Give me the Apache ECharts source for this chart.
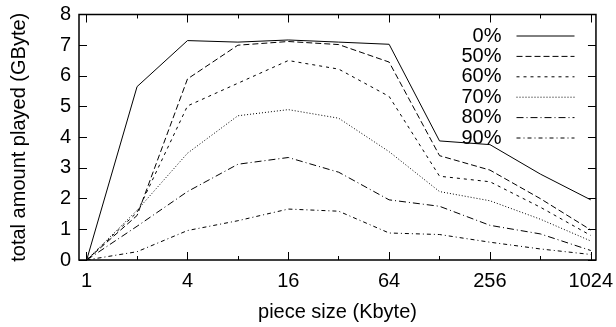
<!DOCTYPE html>
<html>
<head>
<meta charset="utf-8">
<script src="https://cdn.jsdelivr.net/npm/echarts@6/dist/echarts.min.js"></script>
<style>html,body{margin:0;padding:0;background:#fff}#c{width:616px;height:327px}</style>
</head>
<body>
<div id="c"></div>
<script>
const sizes = [1, 2, 4, 8, 16, 32, 64, 128, 256, 512, 1024];
const seriesNames = ['0%', '50%', '60%', '70%', '80%', '90%'];
const p0  = [0, 5.65, 7.15, 7.10, 7.17, 7.10, 7.03, 3.88, 3.76, 2.80, 1.96];
const p50 = [0, 1.45, 5.90, 7.00, 7.12, 7.02, 6.45, 3.40, 2.93, 2.00, 0.98];
const p60 = [0, 1.55, 5.02, 5.76, 6.50, 6.22, 5.33, 2.73, 2.55, 1.72, 0.80];
const p70 = [0, 1.62, 3.48, 4.70, 4.90, 4.62, 3.53, 2.23, 1.93, 1.33, 0.62];
const p80 = [0, 1.10, 2.23, 3.12, 3.34, 2.86, 1.96, 1.75, 1.13, 0.85, 0.31];
const p90 = [0, 0.27, 0.96, 1.28, 1.66, 1.59, 0.88, 0.83, 0.58, 0.36, 0.18];
const majorTicks = [1, 4, 16, 64, 256, 1024];
const minorTicks = [2, 8, 32, 128, 512];

const allValues = [p0, p50, p60, p70, p80, p90];
const dashes = ['solid', [6, 3], [3, 4], [1, 2], [7, 3, 1, 3], [4, 3, 1, 3]];
const FONT = 'Liberation Sans, Arial, Helvetica, sans-serif';
const FS = 20;

const chart = echarts.init(document.getElementById('c'), null, {renderer: 'canvas'});

function xAx(pos, ticks, len, showLabel, extra) {
  return Object.assign({
    type: 'log', logBase: 2, min: 0.9, max: 1100, position: pos,
    axisLine: {show: false},
    splitLine: {show: false},
    axisTick: {show: true, inside: true, length: len, customValues: ticks,
               lineStyle: {color: '#000', width: 1}},
    axisLabel: showLabel ? {show: true, customValues: ticks, color: '#000',
               fontSize: FS, fontFamily: FONT, margin: 11,
               formatter: v => String(Math.round(v))} : {show: false}
  }, extra || {});
}

const option = {
  animation: false,
  backgroundColor: '#fff',
  grid: {left: 79, right: 18.5, top: 14.5, bottom: 65.7, show: true,
         borderColor: '#000', borderWidth: 1.5, backgroundColor: 'transparent'},
  legend: {
    show: true, orient: 'vertical', right: 36, top: 21,
    align: 'right', itemWidth: 58, itemHeight: 14, itemGap: 0.4,
    itemStyle: {color: 'transparent', borderColor: 'transparent', borderWidth: 0, opacity: 0},
    lineStyle: {width: 1, color: '#000'},
    textStyle: {fontSize: FS, fontFamily: FONT, color: '#000', width: 46,
                align: 'right', lineHeight: 20, padding: [0, 10, 0, 0]},
    data: seriesNames
  },
  xAxis: [
    xAx('bottom', majorTicks, 8, true, {
      name: 'piece size (Kbyte)', nameLocation: 'middle', nameGap: 42,
      nameTextStyle: {fontSize: FS, fontFamily: FONT, color: '#000'}
    }),
    xAx('bottom', minorTicks, 4, false),
    xAx('top', majorTicks, 8, false),
    xAx('top', minorTicks, 4, false)
  ],
  yAxis: [
    {type: 'value', min: 0, max: 8, interval: 1, position: 'left',
     axisLine: {show: false}, splitLine: {show: false},
     axisTick: {show: true, inside: true, length: 8, lineStyle: {color: '#000', width: 1}},
     axisLabel: {color: '#000', fontSize: FS, fontFamily: FONT, margin: 8},
     name: 'total amount played (GByte)', nameLocation: 'middle', nameGap: 50,
     nameTextStyle: {fontSize: FS, fontFamily: FONT, color: '#000'}},
    {type: 'value', min: 0, max: 8, interval: 1, position: 'right',
     axisLine: {show: false}, splitLine: {show: false},
     axisTick: {show: true, inside: true, length: 8, lineStyle: {color: '#000', width: 1}},
     axisLabel: {show: false}}
  ],
  series: seriesNames.map((name, i) => ({
    name: name, type: 'line', xAxisIndex: 0, yAxisIndex: 0,
    symbol: 'none', silent: true,
    lineStyle: {color: '#000', width: 1, type: dashes[i]},
    itemStyle: {color: '#000'},
    data: sizes.map((s, j) => [s, allValues[i][j]])
  }))
};
chart.setOption(option);
</script>
</body>
</html>
